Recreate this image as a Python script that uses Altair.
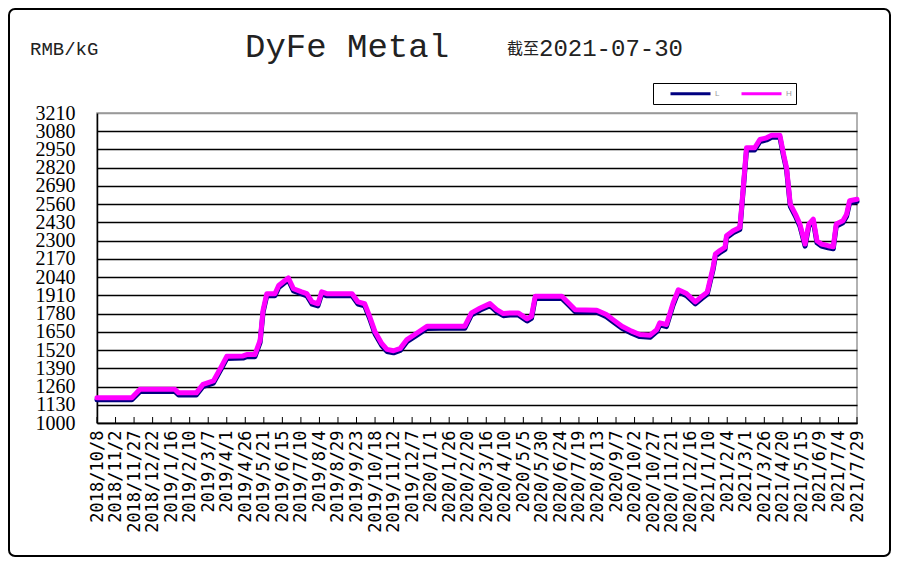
import altair as alt
import pandas as pd

# ---------------- data ----------------
DATES = [
    "2018-10-08", "2018-11-24", "2018-12-05", "2019-01-21", "2019-01-26", "2019-02-19", "2019-02-28", "2019-03-14", "2019-03-25", "2019-04-01",
    "2019-04-23", "2019-04-28", "2019-05-09", "2019-05-16", "2019-05-20", "2019-05-25", "2019-06-05", "2019-06-10", "2019-06-16", "2019-06-23",
    "2019-06-30", "2019-07-11", "2019-07-18", "2019-07-25", "2019-08-02", "2019-08-07", "2019-08-14", "2019-09-17", "2019-09-25", "2019-10-04",
    "2019-10-11", "2019-10-18", "2019-10-27", "2019-11-03", "2019-11-12", "2019-11-21", "2019-11-30", "2019-12-13", "2019-12-27", "2020-01-14",
    "2020-02-16", "2020-02-25", "2020-03-08", "2020-03-21", "2020-03-30", "2020-04-08", "2020-04-17", "2020-04-28", "2020-05-10", "2020-05-16",
    "2020-05-21", "2020-06-26", "2020-07-05", "2020-07-14", "2020-08-12", "2020-08-25", "2020-09-03", "2020-09-15", "2020-09-28", "2020-10-09",
    "2020-10-23", "2020-11-01", "2020-11-05", "2020-11-14", "2020-11-23", "2020-11-30", "2020-12-11", "2020-12-23", "2021-01-01", "2021-01-08",
    "2021-01-16", "2021-01-19", "2021-01-25", "2021-02-01", "2021-02-03", "2021-02-12", "2021-02-21", "2021-02-23", "2021-03-02", "2021-03-13",
    "2021-03-20", "2021-03-29", "2021-04-05", "2021-04-16", "2021-04-21", "2021-04-25", "2021-04-30", "2021-05-07", "2021-05-13", "2021-05-20",
    "2021-05-25", "2021-05-31", "2021-06-05", "2021-06-11", "2021-06-20", "2021-06-27", "2021-07-01", "2021-07-10", "2021-07-15", "2021-07-19",
    "2021-07-29",
]
HIGH = [
    1180, 1180, 1240, 1240, 1215, 1215, 1275, 1300, 1405, 1475,
    1478, 1488, 1488, 1590, 1805, 1922, 1922, 1980, 2005, 2035,
    1957, 1935, 1922, 1863, 1850, 1935, 1922, 1922, 1863, 1850,
    1756, 1650, 1567, 1525, 1515, 1532, 1595, 1640, 1689, 1690,
    1690, 1785, 1820, 1851, 1808, 1780, 1785, 1785, 1742, 1761,
    1903, 1903, 1856, 1808, 1804, 1773, 1737, 1690, 1655, 1631,
    1626, 1666, 1714, 1702, 1856, 1950, 1923, 1864, 1904, 1933,
    2111, 2205, 2229, 2253, 2335, 2371, 2394, 2513, 2962, 2962,
    3021, 3033, 3052, 3052, 2915, 2820, 2560, 2489, 2418, 2276,
    2418, 2454, 2300, 2276, 2264, 2257, 2418, 2442, 2489, 2584,
    2595,
]
LOW = [
    1165, 1165, 1225, 1225, 1200, 1200, 1260, 1285, 1390, 1460,
    1463, 1473, 1473, 1575, 1790, 1907, 1907, 1965, 1990, 2020,
    1942, 1920, 1907, 1848, 1835, 1920, 1907, 1907, 1848, 1835,
    1741, 1635, 1552, 1510, 1500, 1517, 1580, 1625, 1674, 1675,
    1675, 1770, 1805, 1836, 1793, 1765, 1770, 1770, 1727, 1746,
    1888, 1888, 1841, 1793, 1789, 1758, 1722, 1675, 1640, 1616,
    1611, 1651, 1699, 1687, 1841, 1935, 1908, 1849, 1889, 1918,
    2096, 2190, 2214, 2238, 2320, 2356, 2379, 2498, 2947, 2947,
    3006, 3018, 3037, 3037, 2900, 2805, 2545, 2474, 2403, 2261,
    2403, 2439, 2285, 2261, 2249, 2242, 2403, 2427, 2474, 2569,
    2580,
]
TICK_LABELS = [
    "2018/10/8", "2018/11/2", "2018/11/27", "2018/12/22", "2019/1/16", "2019/2/10", "2019/3/7",
    "2019/4/1", "2019/4/26", "2019/5/21", "2019/6/15", "2019/7/10", "2019/8/4", "2019/8/29",
    "2019/9/23", "2019/10/18", "2019/11/12", "2019/12/7", "2020/1/1", "2020/1/26", "2020/2/20",
    "2020/3/16", "2020/4/10", "2020/5/5", "2020/5/30", "2020/6/24", "2020/7/19", "2020/8/13",
    "2020/9/7", "2020/10/2", "2020/10/27", "2020/11/21", "2020/12/16", "2021/1/10", "2021/2/4",
    "2021/3/1", "2021/3/26", "2021/4/20", "2021/5/15", "2021/6/9", "2021/7/4", "2021/7/29",
]
Y_TICKS = [1000, 1130, 1260, 1390, 1520, 1650, 1780, 1910, 2040, 2170,
           2300, 2430, 2560, 2690, 2820, 2950, 3080, 3210]
SERIES = ["L", "H"]
COLORS = ["#000080", "#FF00FF"]
UNIT_TEXT = ["RMB/kG"]
TITLE_TEXT = ["DyFe Metal"]
DATE_PREFIX = ["截至"]
DATE_TEXT = ["2021-07-30"]

assert len(DATES) == len(HIGH) == len(LOW)


def to_ms(label):
    ts = pd.to_datetime(label, format="%Y/%m/%d").tz_localize("UTC")
    return int(ts.value // 10**6)


tick_ms = [to_ms(t) for t in TICK_LABELS]
n = len(DATES)
df = pd.DataFrame({
    "date": DATES + DATES,
    "price": LOW + HIGH,
    "series": [SERIES[0]] * n + [SERIES[1]] * n,
})
ticks_df = pd.DataFrame({"date": tick_ms})

x_scale = alt.Scale(type="utc", domain=[tick_ms[0], tick_ms[-1]])
y_scale = alt.Scale(domain=[Y_TICKS[0], Y_TICKS[-1]], nice=False, zero=False)

color = alt.Color(
    "series:N",
    scale=alt.Scale(domain=SERIES, range=COLORS),
    legend=alt.Legend(
        orient="none", legendX=556, legendY=-30, direction="horizontal",
        title=None, symbolType="M-4,0H4", symbolSize=100, symbolStrokeWidth=3,
        symbolOffset=27, labelOffset=18,
        labelFontSize=8, labelColor="#999999", labelFont="Liberation Sans",
        strokeColor="black", fillColor="white", padding=4, columnPadding=8,
    ),
)

x_axis = alt.Axis(
    values=tick_ms, format="%Y/%-m/%-d", labelAngle=270, labelAlign="right",
    labelBaseline="middle", labelFont="DejaVu Sans Mono", labelFontSize=17,
    labelColor="black", labelPadding=7, ticks=False, grid=False,
    domainColor="black", domainWidth=1.5, labelOverlap=False, labelFlush=False,
    title=None,
)
x_enc = alt.X("date:T", scale=x_scale, axis=x_axis)
y_enc = alt.Y(
    "price:Q", scale=y_scale, title=None,
    axis=alt.Axis(
        values=Y_TICKS, format="d", grid=True,
        gridColor=alt.condition("datum.value >= 3210", alt.value("#999999"), alt.value("black")),
        gridWidth=1.3, ticks=False,
        domainColor="black", domainWidth=1.5, labelFont="Liberation Serif",
        labelFontSize=20, labelColor="black", labelPadding=22,
        labelOverlap=False, labelFlush=False,
    ),
)

base = alt.Chart(df)
line_low = base.transform_filter(alt.datum.series == "L").mark_line(
    strokeWidth=5, strokeJoin="round", strokeCap="round"
).encode(x=x_enc, y=y_enc, color=color)
line_high = base.transform_filter(alt.datum.series == "H").mark_line(
    strokeWidth=5, strokeJoin="round", strokeCap="round"
).encode(x=x_enc, y=y_enc, color=color)

tick_marks = alt.Chart(ticks_df).mark_rule(color="black", strokeWidth=1).encode(
    x=x_enc, y=alt.value(304), y2=alt.value(310),
)

border = alt.Chart(pd.DataFrame({"a": [0]})).mark_rect(
    fillOpacity=0, stroke="black", strokeWidth=2, cornerRadius=6
).encode(x=alt.value(-88), x2=alt.value(793), y=alt.value(-104), y2=alt.value(443))

unit = alt.Chart(pd.DataFrame({"t": UNIT_TEXT})).mark_text(
    font="Liberation Mono", fontSize=19, align="left", baseline="middle", color="#222222"
).encode(text="t:N", x=alt.value(-67), y=alt.value(-64))
title = alt.Chart(pd.DataFrame({"t": TITLE_TEXT})).mark_text(
    font="Liberation Mono", fontSize=34, align="left", baseline="middle", color="#222222"
).encode(text="t:N", x=alt.value(148), y=alt.value(-66))
prefix = alt.Chart(pd.DataFrame({"t": DATE_PREFIX})).mark_text(
    font="Noto Sans CJK SC", fontSize=16, align="left", baseline="middle", color="#222222"
).encode(text="t:N", x=alt.value(410), y=alt.value(-64))
date_txt = alt.Chart(pd.DataFrame({"t": DATE_TEXT})).mark_text(
    font="Liberation Mono", fontSize=24, align="left", baseline="middle", color="#222222"
).encode(text="t:N", x=alt.value(442), y=alt.value(-64))

chart = alt.layer(
    border, line_low, line_high, tick_marks, unit, title, prefix, date_txt
).properties(
    width=760, height=310,
    autosize=alt.AutoSizeParams(type="none"),
    padding={"left": 89, "top": 105, "right": 35, "bottom": 135},
    background="white",
).configure_view(stroke="#999999", strokeWidth=1.5)

chart.save("out.html", embed_options={"renderer": "svg", "actions": False})
